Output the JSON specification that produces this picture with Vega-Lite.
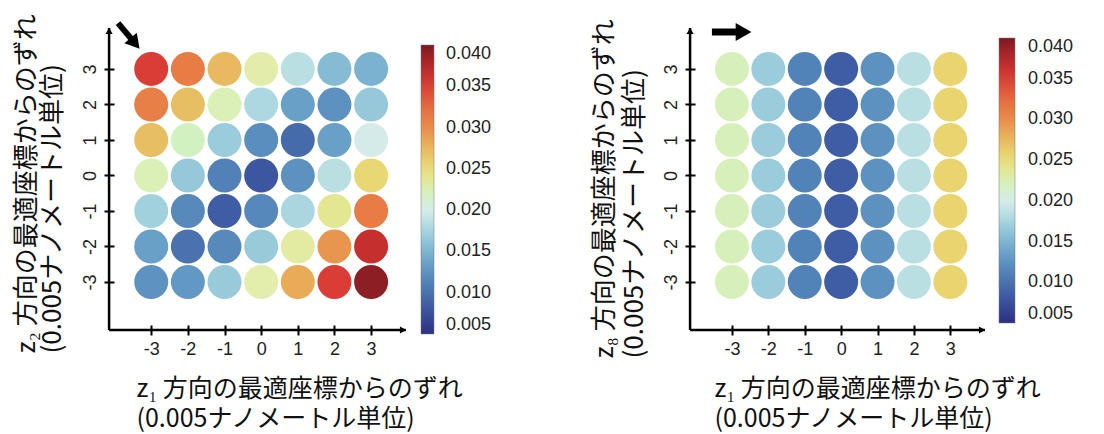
{
  "$schema": "https://vega.github.io/schema/vega-lite/v6.json",
  "background": "white",
  "padding": {"left": 12, "top": 13, "right": 5, "bottom": 3},
  "spacing": 284,
  "bounds": "flush",
  "resolve": {"scale": {"color": "independent"}, "legend": {"color": "independent"}},
  "config": {
    "view": {"stroke": null},
    "axis": {"grid": false, "domain": false, "tickColor": "black", "tickWidth": 2, "tickSize": 10, "offset": -5,
      "labelFont": "Liberation Sans", "labelFontSize": 18, "labelColor": "#222",
      "titleFont": "Noto Sans CJK JP", "titleFontWeight": "normal", "titleColor": "#111", "titleFontSize": 25}
  },
  "datasets": {
    "p1": [
      {"x": -3, "y": 3, "v": 0.0350}, {"x": -2, "y": 3, "v": 0.0312}, {"x": -1, "y": 3, "v": 0.0275}, {"x": 0, "y": 3, "v": 0.0228}, {"x": 1, "y": 3, "v": 0.0185}, {"x": 2, "y": 3, "v": 0.0155}, {"x": 3, "y": 3, "v": 0.0148},
      {"x": -3, "y": 2, "v": 0.0310}, {"x": -2, "y": 2, "v": 0.0272}, {"x": -1, "y": 2, "v": 0.0222}, {"x": 0, "y": 2, "v": 0.0178}, {"x": 1, "y": 2, "v": 0.0135}, {"x": 2, "y": 2, "v": 0.0125}, {"x": 3, "y": 2, "v": 0.0165},
      {"x": -3, "y": 1, "v": 0.0272}, {"x": -2, "y": 1, "v": 0.0219}, {"x": -1, "y": 1, "v": 0.0168}, {"x": 0, "y": 1, "v": 0.0122}, {"x": 1, "y": 1, "v": 0.0095}, {"x": 2, "y": 1, "v": 0.0135}, {"x": 3, "y": 1, "v": 0.0199},
      {"x": -3, "y": 0, "v": 0.0222}, {"x": -2, "y": 0, "v": 0.0165}, {"x": -1, "y": 0, "v": 0.0112}, {"x": 0, "y": 0, "v": 0.0080}, {"x": 1, "y": 0, "v": 0.0125}, {"x": 2, "y": 0, "v": 0.0185}, {"x": 3, "y": 0, "v": 0.0255},
      {"x": -3, "y": -1, "v": 0.0172}, {"x": -2, "y": -1, "v": 0.0118}, {"x": -1, "y": -1, "v": 0.0085}, {"x": 0, "y": -1, "v": 0.0117}, {"x": 1, "y": -1, "v": 0.0176}, {"x": 2, "y": -1, "v": 0.0238}, {"x": 3, "y": -1, "v": 0.0312},
      {"x": -3, "y": -2, "v": 0.0135}, {"x": -2, "y": -2, "v": 0.0100}, {"x": -1, "y": -2, "v": 0.0118}, {"x": 0, "y": -2, "v": 0.0166}, {"x": 1, "y": -2, "v": 0.0230}, {"x": 2, "y": -2, "v": 0.0295}, {"x": 3, "y": -2, "v": 0.0365},
      {"x": -3, "y": -3, "v": 0.0126}, {"x": -2, "y": -3, "v": 0.0130}, {"x": -1, "y": -3, "v": 0.0166}, {"x": 0, "y": -3, "v": 0.0226}, {"x": 1, "y": -3, "v": 0.0283}, {"x": 2, "y": -3, "v": 0.0350}, {"x": 3, "y": -3, "v": 0.0392}
    ],
    "p2": [
      {"x": -3, "y": 3, "v": 0.0221}, {"x": -2, "y": 3, "v": 0.0168}, {"x": -1, "y": 3, "v": 0.0113}, {"x": 0, "y": 3, "v": 0.0085}, {"x": 1, "y": 3, "v": 0.0125}, {"x": 2, "y": 3, "v": 0.0185}, {"x": 3, "y": 3, "v": 0.0257},
      {"x": -3, "y": 2, "v": 0.0221}, {"x": -2, "y": 2, "v": 0.0168}, {"x": -1, "y": 2, "v": 0.0113}, {"x": 0, "y": 2, "v": 0.0085}, {"x": 1, "y": 2, "v": 0.0125}, {"x": 2, "y": 2, "v": 0.0185}, {"x": 3, "y": 2, "v": 0.0257},
      {"x": -3, "y": 1, "v": 0.0221}, {"x": -2, "y": 1, "v": 0.0168}, {"x": -1, "y": 1, "v": 0.0113}, {"x": 0, "y": 1, "v": 0.0085}, {"x": 1, "y": 1, "v": 0.0125}, {"x": 2, "y": 1, "v": 0.0185}, {"x": 3, "y": 1, "v": 0.0257},
      {"x": -3, "y": 0, "v": 0.0221}, {"x": -2, "y": 0, "v": 0.0168}, {"x": -1, "y": 0, "v": 0.0113}, {"x": 0, "y": 0, "v": 0.0085}, {"x": 1, "y": 0, "v": 0.0125}, {"x": 2, "y": 0, "v": 0.0185}, {"x": 3, "y": 0, "v": 0.0257},
      {"x": -3, "y": -1, "v": 0.0221}, {"x": -2, "y": -1, "v": 0.0168}, {"x": -1, "y": -1, "v": 0.0113}, {"x": 0, "y": -1, "v": 0.0085}, {"x": 1, "y": -1, "v": 0.0125}, {"x": 2, "y": -1, "v": 0.0185}, {"x": 3, "y": -1, "v": 0.0257},
      {"x": -3, "y": -2, "v": 0.0221}, {"x": -2, "y": -2, "v": 0.0168}, {"x": -1, "y": -2, "v": 0.0113}, {"x": 0, "y": -2, "v": 0.0085}, {"x": 1, "y": -2, "v": 0.0125}, {"x": 2, "y": -2, "v": 0.0185}, {"x": 3, "y": -2, "v": 0.0257},
      {"x": -3, "y": -3, "v": 0.0221}, {"x": -2, "y": -3, "v": 0.0168}, {"x": -1, "y": -3, "v": 0.0113}, {"x": 0, "y": -3, "v": 0.0085}, {"x": 1, "y": -3, "v": 0.0125}, {"x": 2, "y": -3, "v": 0.0185}, {"x": 3, "y": -3, "v": 0.0257}
    ],
    "one": [{}]
  },
  "hconcat": [
    {
      "width": 297, "height": 302,
      "layer": [
        {
          "data": {"name": "p1"},
          "mark": {"type": "circle", "size": 1156, "opacity": 1},
          "encoding": {
            "x": {"field": "x", "type": "quantitative", "scale": {"domain": [-4.152, 3.952], "nice": false, "zero": false},
              "axis": {"values": [-3, -2, -1, 0, 1, 2, 3], "labelExpr": "'' + datum.value", "labelPadding": 5,
                "title": ["z₁ 方向の最適座標からのずれ", "(0.005ナノメートル単位)"],
                "titleAnchor": "start", "titleAlign": "left", "titleBaseline": "top", "titleX": 27, "titleY": 51, "titleLineHeight": 30}},
            "y": {"field": "y", "type": "quantitative", "scale": {"domain": [-4.352, 4.152], "nice": false, "zero": false},
              "axis": {"values": [-3, -2, -1, 0, 1, 2, 3], "labelExpr": "'' + datum.value", "labelAngle": 270, "labelAlign": "center", "labelBaseline": "bottom", "labelPadding": 5,
                "title": ["z₂ 方向の最適座標からのずれ", "(0.005ナノメートル単位)"], "titleFontSize": 26,
                "titleAngle": 270, "titleAnchor": "start", "titleAlign": "left", "titleBaseline": "top", "titleX": -101, "titleY": 325, "titleLineHeight": 26}},
            "color": {"field": "v", "type": "quantitative",
              "scale": {"domain": [0.005, 0.0075, 0.01, 0.0125, 0.015, 0.0175, 0.02, 0.0225, 0.025, 0.0275, 0.03, 0.0325, 0.035, 0.0375, 0.04],
                "range": ["#2c2f7f", "#3b4f9c", "#4a72ae", "#5d92c0", "#7db5d1", "#a8d5e0", "#d6ecea", "#e3eeae", "#e8df78", "#e8b960", "#e88c4c", "#e56b40", "#d93d36", "#b8272b", "#7a1a20"]},
              "legend": {"orient": "none", "legendX": 312, "legendY": 17, "gradientLength": 289, "gradientThickness": 13, "title": null,
                "values": [0.005, 0.01, 0.015, 0.02, 0.025, 0.03, 0.035, 0.04], "format": ".3f", "labelBaseline": "middle",
                "labelFont": "Liberation Sans", "labelFontSize": 18, "labelColor": "#222", "labelOffset": 12, "gradientStrokeColor": "#777", "gradientStrokeWidth": 0.5}}
          }
        },
        {
          "data": {"name": "one"},
          "mark": {"type": "rule", "strokeWidth": 2.5, "color": "black", "clip": false},
          "encoding": {"x": {"datum": -4.15, "type": "quantitative"}, "y": {"datum": -4.35, "type": "quantitative"}, "y2": {"datum": 4.15}}
        },
        {
          "data": {"name": "one"},
          "mark": {"type": "rule", "strokeWidth": 2.5, "color": "black", "clip": false},
          "encoding": {"x": {"datum": -4.15, "type": "quantitative"}, "x2": {"datum": 3.95}, "y": {"datum": -4.35, "type": "quantitative"}}
        },
        {
          "data": {"name": "one"},
          "mark": {"type": "point", "shape": "triangle-up", "size": 50, "filled": true, "color": "black", "opacity": 1, "clip": false},
          "encoding": {"x": {"datum": -4.15, "type": "quantitative"}, "y": {"datum": 4.07, "type": "quantitative"}}
        },
        {
          "data": {"name": "one"},
          "mark": {"type": "point", "shape": "triangle-right", "size": 50, "filled": true, "color": "black", "opacity": 1, "clip": false},
          "encoding": {"x": {"datum": 3.87, "type": "quantitative"}, "y": {"datum": -4.35, "type": "quantitative"}}
        },
        {
          "data": {"name": "one"},
          "mark": {"type": "rule", "strokeWidth": 6, "color": "black", "clip": false},
          "encoding": {"x": {"datum": -3.905, "type": "quantitative"}, "y": {"datum": 4.29, "type": "quantitative"}, "x2": {"datum": -3.44}, "y2": {"datum": 3.72}}
        },
        {
          "data": {"name": "one"},
          "mark": {"type": "point", "shape": "triangle-right", "size": 260, "angle": 50, "filled": true, "color": "black", "opacity": 1, "clip": false},
          "encoding": {"x": {"datum": -3.44, "type": "quantitative"}, "y": {"datum": 3.72, "type": "quantitative"}}
        }
      ]
    },
    {
      "width": 295, "height": 302,
      "layer": [
        {
          "data": {"name": "p2"},
          "mark": {"type": "circle", "size": 1156, "opacity": 1},
          "encoding": {
            "x": {"field": "x", "type": "quantitative", "scale": {"domain": [-4.152, 3.952], "nice": false, "zero": false},
              "axis": {"values": [-3, -2, -1, 0, 1, 2, 3], "labelExpr": "'' + datum.value", "labelPadding": 5,
                "title": ["z₁ 方向の最適座標からのずれ", "(0.005ナノメートル単位)"],
                "titleAnchor": "start", "titleAlign": "left", "titleBaseline": "top", "titleX": 24, "titleY": 51, "titleLineHeight": 30}},
            "y": {"field": "y", "type": "quantitative", "scale": {"domain": [-4.352, 4.152], "nice": false, "zero": false},
              "axis": {"values": [-3, -2, -1, 0, 1, 2, 3], "labelExpr": "'' + datum.value", "labelAngle": 270, "labelAlign": "center", "labelBaseline": "bottom", "labelPadding": 5,
                "title": ["z₈ 方向の最適座標からのずれ", "(0.005ナノメートル単位)"], "titleFontSize": 26,
                "titleAngle": 270, "titleAnchor": "start", "titleAlign": "left", "titleBaseline": "top", "titleX": -104, "titleY": 330, "titleLineHeight": 30}},
            "color": {"field": "v", "type": "quantitative",
              "scale": {"domain": [0.005, 0.0075, 0.01, 0.0125, 0.015, 0.0175, 0.02, 0.0225, 0.025, 0.0275, 0.03, 0.0325, 0.035, 0.0375, 0.04],
                "range": ["#2c2f7f", "#3b4f9c", "#4a72ae", "#5d92c0", "#7db5d1", "#a8d5e0", "#d6ecea", "#e3eeae", "#e8df78", "#e8b960", "#e88c4c", "#e56b40", "#d93d36", "#b8272b", "#7a1a20"]},
              "legend": {"orient": "none", "legendX": 309, "legendY": 10, "gradientLength": 285, "gradientThickness": 16, "title": null,
                "values": [0.005, 0.01, 0.015, 0.02, 0.025, 0.03, 0.035, 0.04], "format": ".3f", "labelBaseline": "middle",
                "labelFont": "Liberation Sans", "labelFontSize": 18, "labelColor": "#222", "labelOffset": 13, "gradientStrokeColor": "#777", "gradientStrokeWidth": 0.5}}
          }
        },
        {
          "data": {"name": "one"},
          "mark": {"type": "rule", "strokeWidth": 2.5, "color": "black", "clip": false},
          "encoding": {"x": {"datum": -4.15, "type": "quantitative"}, "y": {"datum": -4.35, "type": "quantitative"}, "y2": {"datum": 4.15}}
        },
        {
          "data": {"name": "one"},
          "mark": {"type": "rule", "strokeWidth": 2.5, "color": "black", "clip": false},
          "encoding": {"x": {"datum": -4.15, "type": "quantitative"}, "x2": {"datum": 3.95}, "y": {"datum": -4.35, "type": "quantitative"}}
        },
        {
          "data": {"name": "one"},
          "mark": {"type": "point", "shape": "triangle-up", "size": 50, "filled": true, "color": "black", "opacity": 1, "clip": false},
          "encoding": {"x": {"datum": -4.15, "type": "quantitative"}, "y": {"datum": 4.07, "type": "quantitative"}}
        },
        {
          "data": {"name": "one"},
          "mark": {"type": "point", "shape": "triangle-right", "size": 50, "filled": true, "color": "black", "opacity": 1, "clip": false},
          "encoding": {"x": {"datum": 3.87, "type": "quantitative"}, "y": {"datum": -4.35, "type": "quantitative"}}
        },
        {
          "data": {"name": "one"},
          "mark": {"type": "rule", "strokeWidth": 7, "color": "black", "clip": false},
          "encoding": {"x": {"datum": -3.55, "type": "quantitative"}, "y": {"datum": 4.04, "type": "quantitative"}, "x2": {"datum": -2.68}, "y2": {"datum": 4.04}}
        },
        {
          "data": {"name": "one"},
          "mark": {"type": "point", "shape": "triangle-right", "size": 330, "filled": true, "color": "black", "opacity": 1, "clip": false},
          "encoding": {"x": {"datum": -2.68, "type": "quantitative"}, "y": {"datum": 4.04, "type": "quantitative"}}
        }
      ]
    }
  ]
}
